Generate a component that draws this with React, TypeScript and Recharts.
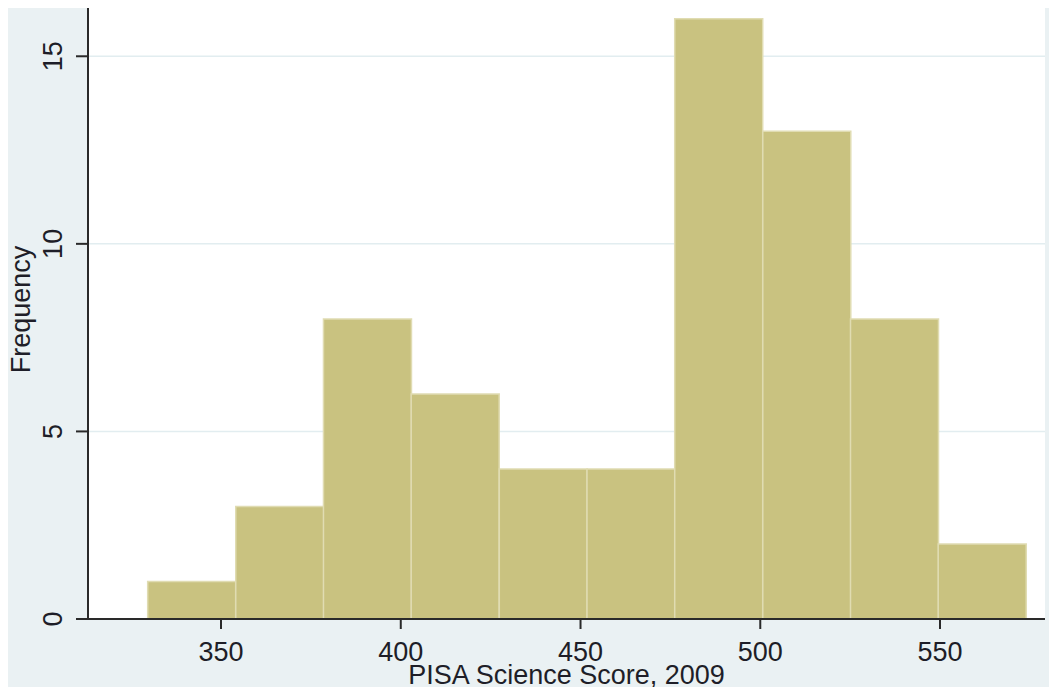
import React from 'react';
import { ComposedChart, Bar, XAxis, YAxis, CartesianGrid } from 'recharts';

// bin midpoints (score) and counts
const binMids = [341.8, 366.3, 390.7, 415.1, 439.6, 464.0, 488.4, 512.9, 537.3, 561.7];
const counts = [1, 3, 8, 6, 4, 4, 16, 13, 8, 2];
const xTicks = [350, 400, 450, 500, 550];
const yTicks = [0, 5, 10, 15];

const FONT = '"Liberation Sans", Arial, sans-serif';
const INK = '#1e1e28';

const data = binMids.map((mid, i) => ({ mid, freq: counts[i] }));

const YTick = (props: any) => {
    const { x, y, payload } = props;
    return (
        <text
            x={x - 12}
            y={y}
            transform={`rotate(-90, ${x - 12}, ${y})`}
            textAnchor="middle"
            fontFamily={FONT}
            fontSize={27}
            fill={INK}
        >
            {payload.value}
        </text>
    );
};

const App: React.FC = () => {
    return (
        <div style={{ margin: -8, width: 1057, height: 695, background: '#EAF1F3' }}>
            <ComposedChart
                width={1057}
                height={695}
                data={data}
                barCategoryGap={0}
                barGap={0}
                margin={{ top: 0, right: 12, bottom: 0, left: 0 }}
            >
                <CartesianGrid vertical={false} stroke="#E2EDF0" strokeWidth={1.5} fill="#ffffff" />
                <XAxis
                    dataKey="mid"
                    type="number"
                    domain={[313, 579.2]}
                    ticks={xTicks}
                    allowDataOverflow
                    height={76}
                    tickSize={10}
                    tickMargin={13}
                    stroke="#2a2a2a"
                    strokeWidth={2}
                    tick={{ fontFamily: FONT, fontSize: 27, fill: INK }}
                    label={{
                        value: 'PISA Science Score, 2009',
                        position: 'insideBottom',
                        offset: 11,
                        style: { fontFamily: FONT, fontSize: 27, fill: INK },
                    }}
                />
                <YAxis
                    type="number"
                    domain={[0, 16.5]}
                    ticks={yTicks}
                    allowDataOverflow
                    width={88}
                    tickSize={12}
                    tickMargin={2}
                    stroke="#2a2a2a"
                    strokeWidth={2}
                    tick={<YTick />}
                    label={{
                        value: 'Frequency',
                        angle: -90,
                        position: 'insideLeft',
                        offset: 20,
                        style: { fontFamily: FONT, fontSize: 27, fill: INK, textAnchor: 'middle' },
                    }}
                />
                <Bar
                    dataKey="freq"
                    fill="#C9C280"
                    stroke="#E0DCB2"
                    strokeWidth={1.5}
                    isAnimationActive={false}
                />
            </ComposedChart>
        </div>
    );
};

export default App;
